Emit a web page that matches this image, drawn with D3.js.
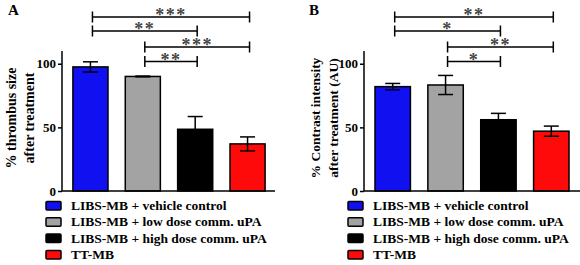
<html>
<head>
  <meta charset="utf-8">
  <script src="https://d3js.org/d3.v7.min.js"></script>
  <style>
    body { margin:0; background:#fff; }
    text { font-family: "Liberation Serif", "Times New Roman", serif; font-weight: bold; }
  </style>
  <script>
    var groups = ["LIBS-MB + vehicle control", "LIBS-MB + low dose comm. uPA",
                  "LIBS-MB + high dose comm. uPA", "TT-MB"];
    var colors = ["#1010f0", "#a3a3a3", "#000000", "#ff0a0a"];
    var yTicks = [0, 50, 100];

    var thrombusMean = [97.5, 90, 48.5, 37];
    var thrombusErr  = [4, 0.3, 10, 5.5];
    var contrastMean = [82, 83.3, 56, 47];
    var contrastErr  = [2.5, 7.5, 5, 4];

    // [from group, to group, label]
    var sigA = [[0, 3, "***"], [0, 2, "**"], [1, 3, "***"], [1, 2, "**"]];
    var sigB = [[0, 3, "**"], [0, 2, "*"], [1, 3, "**"], [1, 2, "*"]];

    function panel(svg, o) {
        var y = d3.scaleLinear().domain([0, 110]).range([191, 51]);
        var x = d3.scaleBand().domain(d3.range(groups.length))
            .range(o.xr).paddingInner(0.33).paddingOuter(0.17);
        var g = svg.append("g");

        g.selectAll("rect.bar").data(o.mean).enter().append("rect")
            .attr("x", (d,i) => x(i)).attr("width", x.bandwidth())
            .attr("y", d => y(d)).attr("height", d => y(0) - y(d))
            .attr("fill", (d,i) => colors[i]).attr("stroke", "#000").attr("stroke-width", 1.5);

        // error bars (upper, plus lower visible inside coloured bars)
        o.mean.forEach(function(m, i) {
            var cx = x(i) + x.bandwidth()/2, e = o.err[i];
            g.append("line").attr("x1", cx).attr("x2", cx)
                .attr("y1", y(m - e)).attr("y2", y(m + e)).attr("stroke", "#000").attr("stroke-width", 1.5);
            [m + e, m - e].forEach(function(v) {
                g.append("line").attr("x1", cx - 7.5).attr("x2", cx + 7.5)
                    .attr("y1", y(v)).attr("y2", y(v)).attr("stroke", "#000").attr("stroke-width", 1.5);
            });
        });

        // axes
        var ax = g.append("g").attr("transform", "translate(" + o.ax + ",0)")
            .call(d3.axisLeft(y).tickValues(yTicks).tickSize(4).tickPadding(2));
        ax.select(".domain").attr("stroke-width", 1.5).attr("d", "M0," + y(110) + "V" + y(0));
        ax.selectAll(".tick line").attr("stroke-width", 1.5);
        ax.selectAll(".tick text").attr("font-size", 13).attr("font-family", "Liberation Serif").attr("font-weight", "bold");
        g.append("line").attr("x1", o.ax).attr("x2", o.axEnd).attr("y1", y(0)).attr("y2", y(0))
            .attr("stroke", "#000").attr("stroke-width", 1.5);

        // y label
        var lab = g.append("text").attr("font-size", o.labSize).attr("text-anchor", "middle")
            .attr("transform", "translate(" + o.labX + ",118) rotate(-90)");
        lab.append("tspan").attr("x", 0).attr("dy", 0).text(o.label[0]);
        lab.append("tspan").attr("x", 0).attr("dy", 17.5).text(o.label[1]);

        // panel letter
        g.append("text").attr("x", o.letterX).attr("y", 15).attr("font-size", 15).text(o.letter);

        // significance brackets
        var levels = [17, 31, 47, 61.5];
        o.sig.forEach(function(s, k) {
            var x1 = x(s[0]) + x.bandwidth()/2 + 2, x2 = x(s[1]) + x.bandwidth()/2 + 2, ly = levels[k];
            g.append("path").attr("d", "M" + x1 + "," + (ly - 5.5) + "V" + (ly + 5.5) + "M" + x1 + "," + ly +
                "H" + x2 + "M" + x2 + "," + (ly - 5.5) + "V" + (ly + 5.5))
                .attr("fill", "none").attr("stroke", "#000").attr("stroke-width", 1.5);
            g.append("text").attr("x", (x1 + x2)/2).attr("y", ly + 4).attr("text-anchor", "middle")
                .attr("font-size", 18).attr("letter-spacing", 1.5).attr("fill", "#444")
                .attr("font-family", "DejaVu Sans").text(s[2]);
        });

        // legend
        var lg = g.selectAll("g.leg").data(groups).enter().append("g")
            .attr("transform", (d,i) => "translate(" + o.legX + "," + (205.5 + i*16.3) + ")");
        lg.append("rect").attr("x", 0).attr("y", -4).attr("width", 15).attr("height", 8.5).attr("rx", 1)
            .attr("fill", (d,i) => colors[i]).attr("stroke", "#000").attr("stroke-width", 1.5);
        lg.append("text").attr("x", 25).attr("y", 4.5).attr("font-size", 13.5).text(d => d);
    }

    function draw() {
        var svg = d3.select("#chart");
        panel(svg, { mean: thrombusMean, err: thrombusErr, sig: sigA, xr: [64, 274], ax: 62, axEnd: 275,
            label: ["% thrombus size", "after treatment"], labX: 16, labSize: 14, letter: "A", letterX: 8, legX: 46 });
        panel(svg, { mean: contrastMean, err: contrastErr, sig: sigB, xr: [366, 578], ax: 364, axEnd: 580,
            label: ["% Contrast intensity", "after treatment (AU)"], labX: 320, labSize: 13.5, letter: "B", letterX: 309, legX: 348 });
    }
  </script>
</head>
<body onload="draw()">
  <svg id="chart" width="580" height="265"></svg>
</body>
</html>
